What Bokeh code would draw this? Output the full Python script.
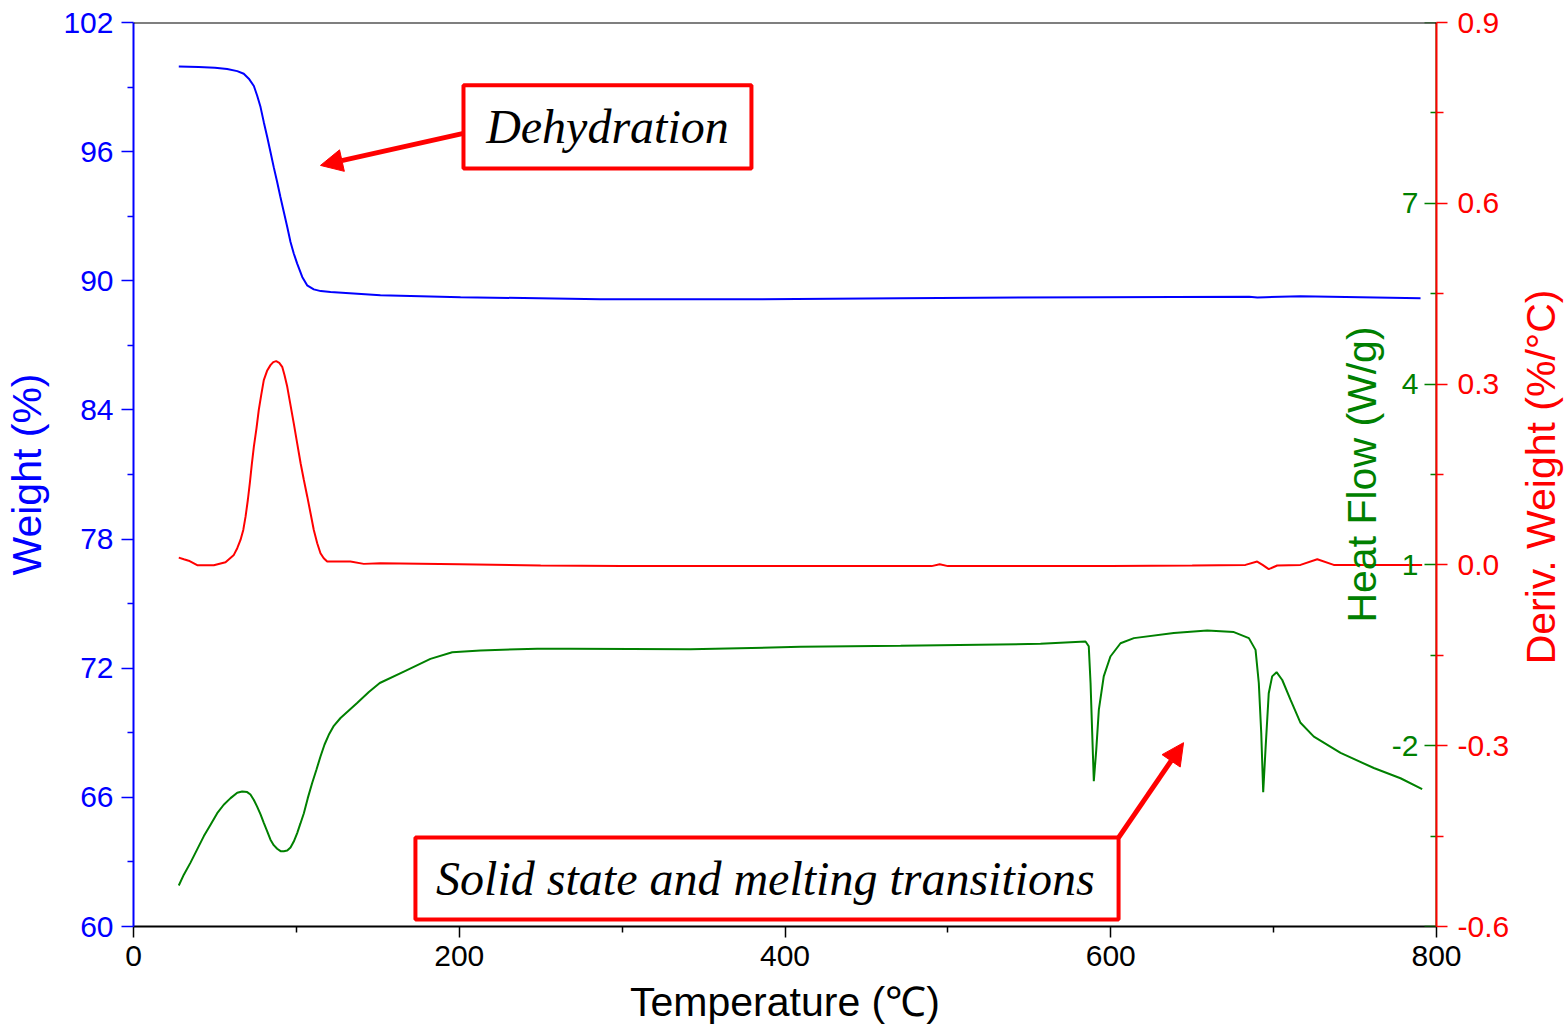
import math
from bokeh.plotting import figure
from bokeh.layouts import row
from bokeh.models import (Range1d, LinearAxis, FixedTicker, Span, BoxAnnotation,
                          Arrow, NormalHead, Label, NumeralTickFormatter)
from bokeh.embed import file_html
from bokeh.resources import INLINE

# ---------------- data ----------------
temp_weight = [27.8, 40.0, 50.0, 57.5, 63.7, 67.7, 70.8, 73.9, 75.9, 78.0, 80.0, 82.1,
               84.1, 86.1, 88.2, 90.2, 92.3, 94.4, 96.4, 98.4, 100.5, 103.6, 106.6,
               110.7, 115.0, 121.0, 151.6, 200.8, 286.7, 378.8, 470.9, 593.7, 685.0,
               690.0, 695.0, 716.5, 790.2]
weight = [99.96, 99.93, 99.90, 99.84, 99.74, 99.62, 99.39, 99.05, 98.61, 98.07, 97.37,
          96.68, 95.98, 95.28, 94.59, 93.89, 93.20, 92.50, 91.80, 91.27, 90.80, 90.18,
          89.79, 89.60, 89.52, 89.48, 89.33, 89.24, 89.14, 89.14, 89.19, 89.24, 89.26,
          89.22, 89.24, 89.28, 89.19]

temp_deriv = [27.8, 30.9, 33.9, 39.1, 49.3, 56.5, 61.6, 63.7, 65.7, 67.4, 68.8, 70.2,
              71.4, 72.6, 73.9, 75.5, 76.9, 78.4, 80.0, 82.0, 84.1, 85.8, 87.6, 89.5,
              91.3, 92.7, 94.4, 96.4, 98.4, 100.5, 102.6, 104.6, 106.7, 108.7, 110.7,
              112.8, 114.8, 116.8, 118.9, 133.2, 141.4, 151.6, 200.0, 250.0, 300.0,
              350.0, 400.0, 450.0, 490.0, 495.0, 500.0, 550.0, 600.0, 650.0, 682.7,
              689.9, 693.2, 697.0, 702.2, 716.5, 726.8, 736.9, 791.2]
deriv = [0.012, 0.0094, 0.007, -0.0005, -0.0005, 0.0045, 0.0166, 0.0277, 0.0414, 0.058,
         0.0801, 0.1077, 0.1354, 0.1658, 0.1961, 0.2266, 0.2569, 0.2818, 0.3066, 0.322,
         0.3315, 0.3365, 0.3381, 0.3353, 0.3287, 0.315, 0.2955, 0.2652, 0.2349, 0.2017,
         0.1686, 0.1409, 0.1132, 0.0857, 0.0580, 0.036, 0.0194, 0.011, 0.0055, 0.0055,
         0.0017, 0.0028, 0.001, -0.001, -0.002, -0.002, -0.002, -0.002, -0.002, 0.001,
         -0.002, -0.002, -0.002, -0.001, 0.0, 0.0055, 0.0, -0.0071, -0.001, 0.0,
         0.0094, 0.0, 0.0]

temp_heat = [27.8, 30.9, 35.0, 39.1, 43.2, 47.3, 51.4, 55.4, 59.6, 63.7, 66.7, 69.8,
             71.8, 73.9, 75.9, 78.0, 80.0, 82.1, 84.1, 86.1, 88.2, 90.3, 92.3, 94.4,
             96.4, 98.4, 100.5, 102.5, 104.6, 107.0, 109.7, 112.4, 114.8, 117.3, 119.9,
             123.0, 127.1, 132.2, 137.3, 144.5, 151.2, 166.0, 182.3, 195.7, 213.0, 247.9,
             268.3, 342.0, 409.5, 471.0, 556.9, 584.5, 586.5, 587.6, 588.6, 589.6, 591.1,
             592.7, 595.7, 599.8, 606.0, 614.2, 638.7, 659.2, 675.6, 684.8, 688.9, 690.9,
             692.4, 693.6, 695.0, 697.0, 699.1, 701.8, 705.3, 710.4, 716.5, 724.7, 741.1,
             761.5, 777.9, 791.2]
heat = [-4.32, -4.14, -3.94, -3.72, -3.50, -3.31, -3.12, -2.98, -2.87, -2.78, -2.76,
        -2.77, -2.81, -2.90, -3.01, -3.14, -3.28, -3.42, -3.56, -3.65, -3.71, -3.75,
        -3.75, -3.74, -3.69, -3.59, -3.45, -3.29, -3.12, -2.87, -2.62, -2.39, -2.18,
        -1.98, -1.82, -1.67, -1.54, -1.415, -1.29, -1.11, -0.96, -0.77, -0.56, -0.45,
        -0.42, -0.39, -0.39, -0.40, -0.36, -0.34, -0.31, -0.27, -0.35, -0.96, -1.78,
        -2.59, -2.07, -1.40, -0.85, -0.52, -0.30, -0.215, -0.13, -0.09, -0.115, -0.215,
        -0.41, -0.96, -1.79, -2.77, -2.07, -1.13, -0.85, -0.78, -0.91, -1.24, -1.62,
        -1.85, -2.12, -2.37, -2.54, -2.72]

x_ticks = [0, 200, 400, 600, 800]
x_minor = [100, 300, 500, 700]
weight_ticks = [60, 66, 72, 78, 84, 90, 96, 102]
weight_minor = [63, 69, 75, 81, 87, 93, 99]
heat_ticks = [-5, -2, 1, 4, 7, 10]
heat_labels = {-5: "", -2: "-2", 1: "1", 4: "4", 7: "7", 10: ""}
heat_minor = [-3.5, -0.5, 2.5, 5.5, 8.5]
deriv_ticks = [-0.6, -0.3, 0.0, 0.3, 0.6, 0.9]
deriv_minor = [-0.45, -0.15, 0.15, 0.45, 0.75]

x_title = "Temperature (\u2103)"
weight_title = "Weight (%)"
heat_title = "Heat Flow (W/g)"
deriv_title = "Deriv. Weight (%/\u00b0C)"
note_dehyd = "Dehydration"
note_solid = "Solid state and melting transitions"

# ---------------- styling ----------------
BLUE = "#0000FF"
RED = "#FF0000"
GREEN = "#008000"
FONT = "Liberation Sans"
SERIF = "Liberation Serif"
TICK_FS = "30px"
TITLE_FS = "41px"

STRIP_W = 56  # narrow strip on the right that carries the Deriv. Weight title

p = figure(width=1568 - STRIP_W, height=1027, x_range=Range1d(0, 800),
           y_range=Range1d(60, 102), output_backend="svg", toolbar_location=None,
           min_border_left=133, min_border_right=132 - STRIP_W, min_border_top=22,
           min_border_bottom=100)
p.extra_y_ranges = {"deriv": Range1d(-0.6, 0.9), "heat": Range1d(-5, 10)}
p.grid.visible = False
p.outline_line_color = None
p.background_fill_color = "white"
p.border_fill_color = "white"


def style_axis(ax, color, tick_out, minor_out, label_standoff, title_standoff):
    ax.axis_line_color = color
    ax.axis_line_width = 2
    ax.major_tick_line_color = color
    ax.minor_tick_line_color = color
    ax.major_tick_line_width = 1.5
    ax.minor_tick_line_width = 1.5
    ax.major_tick_out = tick_out
    ax.major_tick_in = 0
    ax.minor_tick_out = minor_out
    ax.minor_tick_in = 0
    ax.major_label_text_color = color
    ax.major_label_text_font = FONT
    ax.major_label_text_font_size = TICK_FS
    ax.major_label_standoff = label_standoff
    ax.axis_label_text_color = color
    ax.axis_label_text_font = FONT
    ax.axis_label_text_font_size = TITLE_FS
    ax.axis_label_text_font_style = "normal"
    ax.axis_label_standoff = title_standoff


# bottom axis
xa = p.xaxis[0]
xa.ticker = FixedTicker(ticks=x_ticks, minor_ticks=x_minor)
xa.axis_label = x_title
style_axis(xa, "black", 11, 6, 8, 10)

# left weight axis
ya = p.yaxis[0]
ya.ticker = FixedTicker(ticks=weight_ticks, minor_ticks=weight_minor)
ya.axis_label = weight_title
style_axis(ya, BLUE, 12, 6, 8, 10)

# right deriv axis: ticks and labels
ra = LinearAxis(y_range_name="deriv",
                ticker=FixedTicker(ticks=deriv_ticks, minor_ticks=deriv_minor),
                formatter=NumeralTickFormatter(format="0.0"))
style_axis(ra, RED, 11, 7, 10, 10)
p.add_layout(ra, "right")

# heat flow axis drawn inside, on the right edge of the frame
ga = LinearAxis(y_range_name="heat", axis_label=heat_title, fixed_location=800,
                ticker=FixedTicker(ticks=heat_ticks, minor_ticks=heat_minor),
                major_label_overrides=heat_labels)
style_axis(ga, GREEN, 12, 6, 6, 4)
p.add_layout(ga, "left")

# top border
p.add_layout(Span(location=102, dimension="width", line_color="black", line_width=2))

# curves
p.line(temp_weight, weight, line_color=BLUE, line_width=2)
p.line(temp_deriv, deriv, line_color=RED, line_width=2, y_range_name="deriv")
p.line(temp_heat, heat, line_color=GREEN, line_width=2, y_range_name="heat")

# annotations
p.add_layout(BoxAnnotation(left=202.6, right=379.4, bottom=95.22, top=99.08,
                           fill_color=None, line_color=RED, line_alpha=1.0, line_width=4))
p.add_layout(Label(x=291, y=97.17, text=note_dehyd, text_font=SERIF,
                   text_font_style="italic", text_font_size="48px",
                   text_align="center", text_baseline="middle", text_color="black"))
p.add_layout(Arrow(end=NormalHead(size=22, fill_color=RED, line_color=RED),
                   x_start=202.6, y_start=96.85, x_end=114.8, y_end=95.36,
                   line_color=RED, line_width=5))

p.add_layout(BoxAnnotation(left=173.1, right=604.8, bottom=60.33, top=64.13,
                           fill_color=None, line_color=RED, line_alpha=1.0, line_width=4))
p.add_layout(Label(x=388, y=62.23, text=note_solid, text_font=SERIF,
                   text_font_style="italic", text_font_size="48px",
                   text_align="center", text_baseline="middle", text_color="black"))
p.add_layout(Arrow(end=NormalHead(size=22, fill_color=RED, line_color=RED),
                   x_start=604.8, y_start=64.13, x_end=644.7, y_end=68.54,
                   line_color=RED, line_width=5))

# right strip: the Deriv. Weight axis title, reading bottom-to-top
# (strip shares the deriv scale vertically: frame 22..927 px, same as the main plot)
s = figure(width=STRIP_W, height=1027, x_range=Range1d(0, 1), y_range=Range1d(-0.6, 0.9),
           output_backend="svg", toolbar_location=None,
           min_border_left=0, min_border_right=0, min_border_top=22, min_border_bottom=100)
s.xaxis.visible = False
s.yaxis.visible = False
s.grid.visible = False
s.outline_line_color = None
s.background_fill_color = "white"
s.border_fill_color = "white"
s.add_layout(Label(x=0.5, y=0.146, text=deriv_title, angle=90, angle_units="deg",
                   text_font=FONT, text_font_size=TITLE_FS, text_color=RED,
                   text_align="center", text_baseline="middle"))

layout = row(p, s, spacing=0)
open("out.html", "w").write(file_html(layout, INLINE))
